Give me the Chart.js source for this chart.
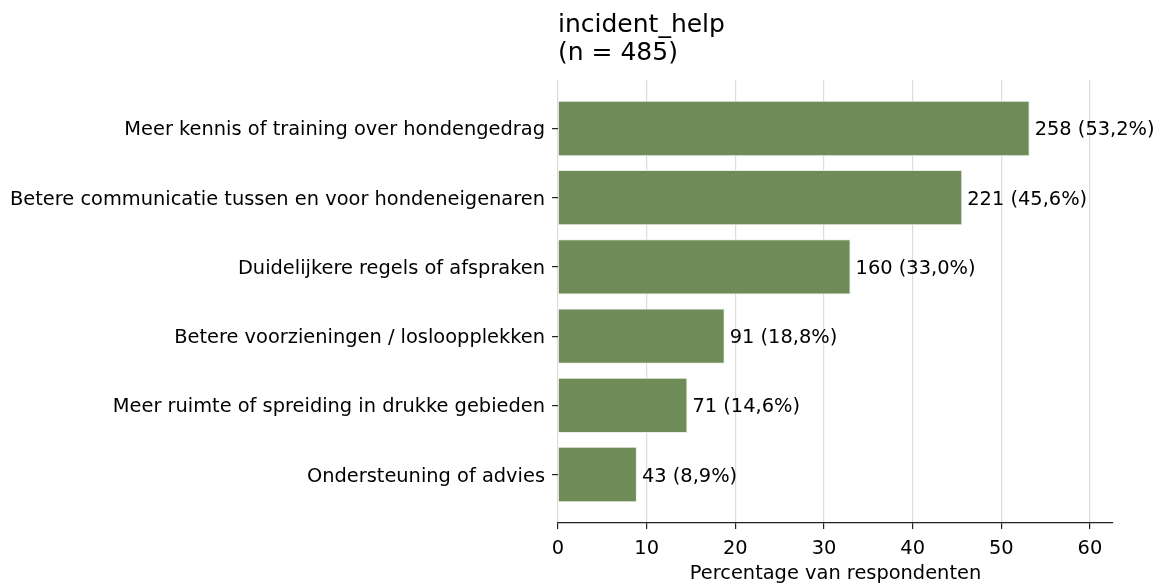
<!DOCTYPE html>
<html>
<head>
<meta charset="utf-8">
<script src="https://cdn.jsdelivr.net/npm/chart.js@4/dist/chart.umd.min.js"></script>
<style>
  html, body { margin: 0; padding: 0; background: #fff; }
  #wrap { width: 1158px; height: 586px; position: relative; }
</style>
</head>
<body>
<div id="wrap"><canvas id="chart"></canvas></div>
<script>
// Data
const categories = [
  'Meer kennis of training over hondengedrag',
  'Betere communicatie tussen en voor hondeneigenaren',
  'Duidelijkere regels of afspraken',
  'Betere voorzieningen / losloopplekken',
  'Meer ruimte of spreiding in drukke gebieden',
  'Ondersteuning of advies'
];
const counts = [258, 221, 160, 91, 71, 43];
const percents = [53.2, 45.6, 33.0, 18.8, 14.6, 8.9];
const xTicks = [0, 10, 20, 30, 40, 50, 60];

const titleLines = ['incident_help', '(n = 485)'];
const xLabel = 'Percentage van respondenten';
const barColor = '#6e8b58';
const FONT = "'DejaVu Sans', sans-serif";
const TXT = '#000';

const fmt = (c, p) => `${c} (${p.toFixed(1).replace('.', ',')}%)`;

// title + value labels
const extras = {
  id: 'extras',
  afterDatasetsDraw(chart) {
    const ctx = chart.ctx;
    const meta = chart.getDatasetMeta(0);
    ctx.save();
    ctx.fillStyle = TXT;
    ctx.font = `19.4px ${FONT}`;
    ctx.textAlign = 'left';
    ctx.textBaseline = 'middle';
    meta.data.forEach((bar, i) => {
      ctx.fillText(fmt(counts[i], percents[i]), bar.x + 5, bar.y + 2);
    });
    ctx.font = `25px ${FONT}`;
    ctx.fillText(titleLines[0], chart.chartArea.left, 25);
    ctx.fillText(titleLines[1], chart.chartArea.left, 53);
    ctx.restore();
  }
};

new Chart(document.getElementById('chart'), {
  type: 'bar',
  data: {
    datasets: [{
      data: percents.map((p, i) => ({ x: p, y: i })),
      backgroundColor: barColor,
      borderColor: '#e8eee3',
      borderWidth: 1,
      barPercentage: 0.8,
      categoryPercentage: 1
    }]
  },
  options: {
    indexAxis: 'y',
    responsive: true,
    maintainAspectRatio: false,
    animation: false,
    layout: { padding: { top: 80, right: 45, left: 0, bottom: 0 } },
    plugins: { legend: { display: false }, tooltip: { enabled: false } },
    scales: {
      x: {
        type: 'linear',
        min: 0,
        max: 62.6,
        afterBuildTicks: (s) => { s.ticks = xTicks.map(v => ({ value: v })); },
        afterFit: (s) => { s.height = 63; },
        grid: { color: '#dcdcdc', lineWidth: 1.2, tickLength: 6, tickColor: '#222' },
        border: { display: true, color: '#222', width: 1.2 },
        ticks: { color: TXT, font: { family: FONT, size: 19.4 }, padding: 8 },
        title: { display: true, text: xLabel, color: TXT, font: { family: FONT, size: 19.4 }, padding: { top: 0, bottom: 0 } }
      },
      y: {
        type: 'linear',
        reverse: true,
        offset: false,
        min: -0.7,
        max: 5.7,
        afterBuildTicks: (s) => { s.ticks = categories.map((c, i) => ({ value: i })); },
        afterFit: (s) => { s.width = 558; },
        grid: { offset: false, drawOnChartArea: false, tickLength: 6, tickColor: '#222', lineWidth: 1.2 },
        border: { display: false },
        ticks: {
          color: TXT,
          font: { family: FONT, size: 19.4 },
          padding: 7,
          labelOffset: 2,
          callback: (v) => categories[v]
        }
      }
    }
  },
  plugins: [extras]
});
</script>
</body>
</html>
